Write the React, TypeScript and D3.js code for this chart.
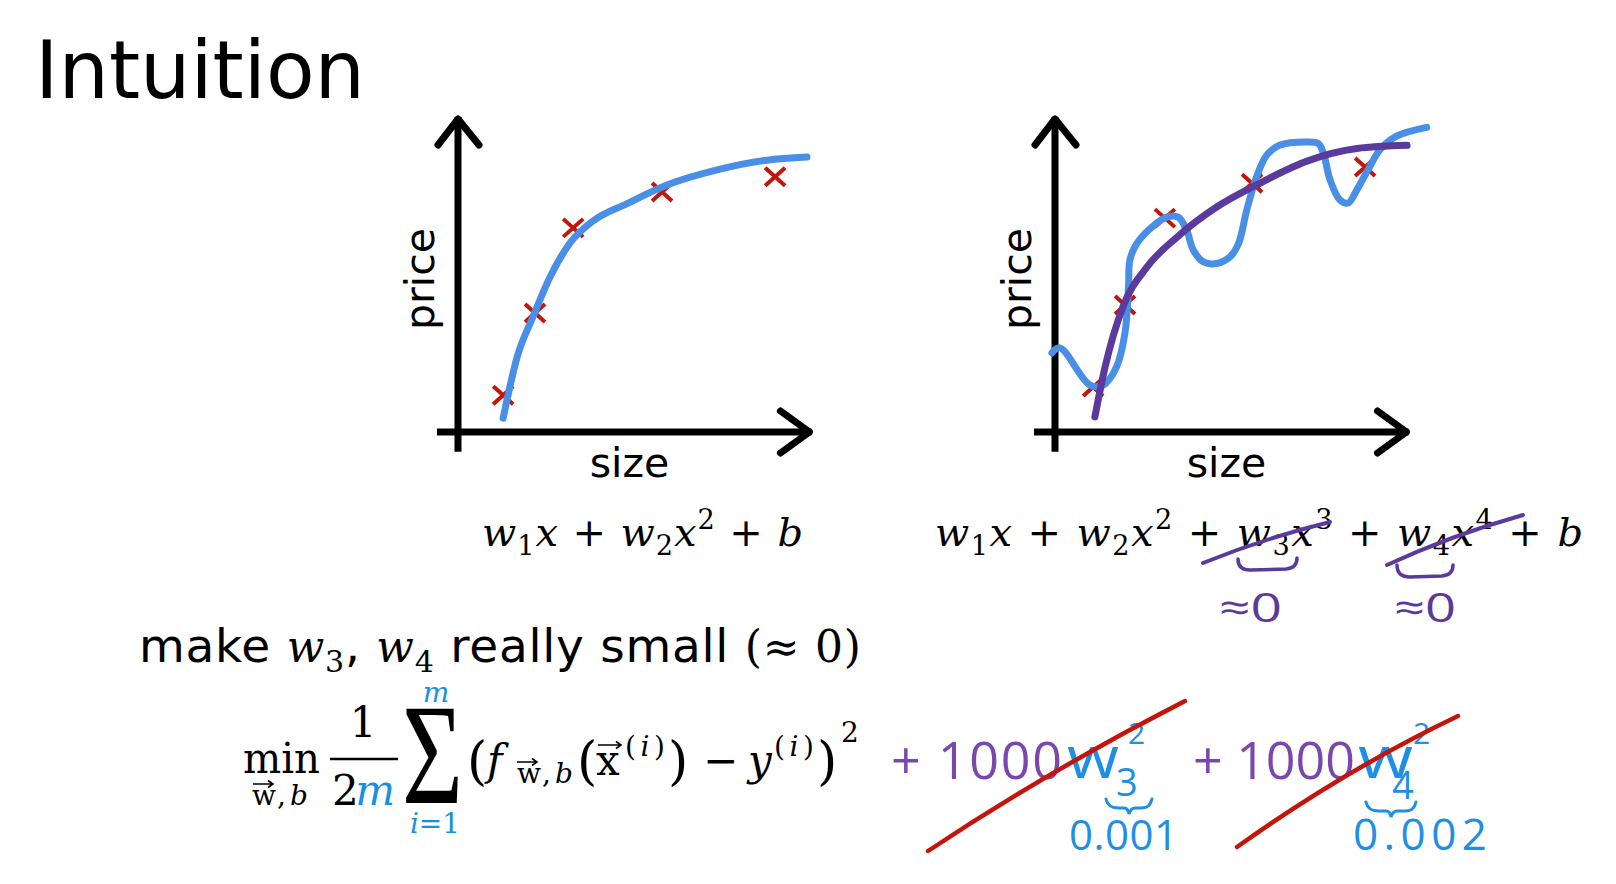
import React from 'react';
import * as d3 from 'd3';

const W = 1616;
const H = 884;

// ---------- data (size / price in arbitrary units 0..10) ----------
const leftSize = [1.29, 2.2, 3.29, 5.83, 9.06];
const leftPrice = [1.17, 3.78, 6.48, 7.62, 8.1];
const leftFitSize = [1.29, 1.69, 2.14, 2.63, 3.2, 3.86, 4.83, 5.97, 7.4, 8.83, 9.97];
const leftFitPrice = [0.44, 2.38, 3.65, 4.92, 6.0, 6.7, 7.25, 7.84, 8.32, 8.63, 8.73];

const rightSize = [1.09, 2.0, 3.14, 5.63, 8.86];
const rightPrice = [1.43, 4.03, 6.79, 7.9, 8.41];
const rightSmoothSize = [1.14, 1.43, 1.94, 2.63, 3.49, 4.63, 5.77, 7.2, 8.63, 10.06];
const rightSmoothPrice = [0.48, 2.06, 3.97, 5.24, 6.19, 7.15, 7.85, 8.6, 9.0, 9.1];
const rightWiggleSize = [-0.09, 0.14, 1.0, 1.38, 1.76, 2.0, 2.1, 2.14, 2.33, 2.71, 3.19, 3.52, 3.76, 3.95, 4.24, 4.62, 5.0, 5.24, 5.48, 5.76, 6.05, 6.43, 7.19, 7.52, 7.67, 7.86, 8.14, 8.38, 8.62, 9.0, 9.29, 9.76, 10.62];
const rightWigglePrice = [2.51, 2.67, 1.49, 1.49, 2.07, 3.15, 4.6, 5.46, 5.97, 6.45, 6.82, 6.82, 6.41, 5.78, 5.4, 5.35, 5.56, 5.97, 7.05, 8.1, 8.79, 9.11, 9.21, 9.16, 8.85, 8.0, 7.37, 7.27, 7.68, 8.44, 8.97, 9.39, 9.67];

const axisLabelX = 'size';
const axisLabelY = 'price';
const title = 'Intuition';

const BLUE = '#4a8fe6';
const PURPLE = '#5a3a9c';
const RED = '#c4150c';
const HAND_PURPLE = '#7a48ad';
const HAND_BLUE = '#1f8fe6';
const MATH_BLUE = '#1a8fe0';
const SERIF = '"DejaVu Serif", "Liberation Serif", serif';
const SANS = '"DejaVu Sans", Verdana, sans-serif';
const HAND = '"Open Sans", "Noto Sans", sans-serif';

type Seg = { t: string; it?: boolean; sub?: boolean; sup?: boolean; fs?: number; fam?: string; fill?: string };

function segs(list: Seg[], base: number, subShift: number, supShift: number) {
  let cur = 0;
  return list.map((s, i) => {
    const target = s.sub ? subShift : s.sup ? -supShift : 0;
    const dy = target - cur;
    cur = target;
    return (
      <tspan
        key={i}
        dy={dy}
        fontStyle={s.it ? 'italic' : 'normal'}
        fontSize={s.fs ?? (s.sub || s.sup ? base * 0.68 : base)}
        fontFamily={s.fam}
        fill={s.fill}
      >
        {s.t}
      </tspan>
    );
  });
}

const leftFormula: Seg[] = [
  { t: 'w', it: true }, { t: '1', sub: true }, { t: 'x', it: true }, { t: ' + ' },
  { t: 'w', it: true }, { t: '2', sub: true }, { t: 'x', it: true }, { t: '2', sup: true }, { t: ' + ' },
  { t: 'b', it: true },
];
const rightFormula: Seg[] = [
  { t: 'w', it: true }, { t: '1', sub: true }, { t: 'x', it: true }, { t: ' + ' },
  { t: 'w', it: true }, { t: '2', sub: true }, { t: 'x', it: true }, { t: '2', sup: true }, { t: ' + ' },
  { t: 'w', it: true }, { t: '3', sub: true }, { t: 'x', it: true }, { t: '3', sup: true }, { t: ' + ' },
  { t: 'w', it: true }, { t: '4', sub: true }, { t: 'x', it: true }, { t: '4', sup: true }, { t: ' + ' },
  { t: 'b', it: true },
];
const makeLine: Seg[] = [
  { t: 'make ', fam: SANS },
  { t: 'w', it: true, fam: SERIF, fs: 44 }, { t: '3', sub: true, fam: SERIF, fs: 30 },
  { t: ', ', fam: SANS },
  { t: 'w', it: true, fam: SERIF, fs: 44 }, { t: '4', sub: true, fam: SERIF, fs: 30 },
  { t: ' really small ', fam: SANS },
  { t: '(≈ 0)', fam: SERIF, fs: 44 },
];

function Panel({ x0, sizes, prices, curves }: {
  x0: number;
  sizes: number[];
  prices: number[];
  curves: { xs: number[]; ys: number[]; color: string; smooth?: boolean }[];
}) {
  const x = d3.scaleLinear().domain([0, 10]).range([x0, x0 + 350]);
  const y = d3.scaleLinear().domain([0, 10]).range([432, 117]);
  const mk = (smooth?: boolean) => d3.line<[number, number]>()
    .x((d) => x(d[0]))
    .y((d) => y(d[1]))
    .curve(smooth ? d3.curveMonotoneX : d3.curveCatmullRom.alpha(0.5));
  const ax = x(0);
  const ay = y(0);
  const xEnd = x(10.1);
  const yTop = y(10);
  return (
    <g>
      <line x1={x(-0.6)} y1={ay} x2={xEnd} y2={ay} stroke="#000" strokeWidth={7} />
      <line x1={ax} y1={y(-0.63)} x2={ax} y2={yTop} stroke="#000" strokeWidth={7} />
      <path d={`M${ax - 20},${yTop + 28} L${ax},${yTop + 2} L${ax + 21},${yTop + 28}`} fill="none" stroke="#000" strokeWidth={7} strokeLinecap="round" strokeLinejoin="round" />
      <path d={`M${xEnd - 31},${ay - 21} L${xEnd - 2},${ay} L${xEnd - 31},${ay + 21}`} fill="none" stroke="#000" strokeWidth={7} strokeLinecap="round" strokeLinejoin="round" />
      <text x={x(4.9)} y={477} textAnchor="middle" fontFamily={SANS} fontSize={41} fill="#000">{axisLabelX}</text>
      <text transform={`translate(${ax - 24},${279}) rotate(-90)`} textAnchor="middle" fontFamily={SANS} fontSize={41} fill="#000">{axisLabelY}</text>
      {sizes.map((s, i) => (
        <path key={i} transform={`translate(${x(s)},${y(prices[i])})`} d="M-10,-9 L10,9 M-10,9 L10,-9" stroke={RED} strokeWidth={4} fill="none" />
      ))}
      {curves.map((c, i) => (
        <path key={i} d={mk(c.smooth)(c.xs.map((v, j) => [v, c.ys[j]]) as [number, number][]) || ''} fill="none" stroke={c.color} strokeWidth={7} strokeLinecap="round" strokeLinejoin="round" />
      ))}
    </g>
  );
}

function VecArrow({ x1, x2, y }: { x1: number; x2: number; y: number }) {
  return (
    <path d={`M${x1},${y} L${x2},${y} M${x2 - 5},${y - 3.5} L${x2},${y} L${x2 - 5},${y + 3.5}`} stroke="#000" strokeWidth={1.6} fill="none" />
  );
}

export default function App() {
  return (
    <svg width={W} height={H} viewBox={`0 0 ${W} ${H}`} style={{ position: 'absolute', left: 0, top: 0, background: '#fff', display: 'block' }}>
      <rect width={W} height={H} fill="#fff" />
      <text x={35} y={98} fontFamily={SANS} fontSize={80} fill="#000" textLength={330} lengthAdjust="spacingAndGlyphs">{title}</text>

      <Panel x0={458} sizes={leftSize} prices={leftPrice} curves={[{ xs: leftFitSize, ys: leftFitPrice, color: BLUE, smooth: true }]} />
      <Panel
        x0={1055}
        sizes={rightSize}
        prices={rightPrice}
        curves={[
          { xs: rightWiggleSize, ys: rightWigglePrice, color: BLUE },
          { xs: rightSmoothSize, ys: rightSmoothPrice, color: PURPLE, smooth: true },
        ]}
      />

      {/* model formulas */}
      <text x={482} y={546} fontFamily={SERIF} fontSize={40} fill="#000" style={{ whiteSpace: 'pre' }} textLength={321} lengthAdjust="spacing">
        {segs(leftFormula, 40, 9, 17)}
      </text>
      <text x={935} y={546} fontFamily={SERIF} fontSize={40} fill="#000" style={{ whiteSpace: 'pre' }} textLength={648} lengthAdjust="spacing">
        {segs(rightFormula, 40, 9, 17)}
      </text>

      {/* purple annotations on right formula */}
      <path d="M1203,563 Q1265,538 1330,522" stroke={PURPLE} strokeWidth={4} fill="none" strokeLinecap="round" />
      <path d="M1387,565 Q1452,535 1523,515" stroke={PURPLE} strokeWidth={4} fill="none" strokeLinecap="round" />
      <path d="M1238,559 Q1238,570 1250,570 L1286,569 Q1297,568 1297,558" stroke={PURPLE} strokeWidth={3.5} fill="none" strokeLinecap="round" />
      <path d="M1397,565 Q1397,577 1410,577 L1442,576 Q1453,575 1453,565" stroke={PURPLE} strokeWidth={3.5} fill="none" strokeLinecap="round" />
      <text x={1219} y={622} fontFamily={HAND} fontSize={40} fill={PURPLE} textLength={63} lengthAdjust="spacingAndGlyphs">≈0</text>
      <text x={1394} y={622} fontFamily={HAND} fontSize={40} fill={PURPLE} textLength={62} lengthAdjust="spacingAndGlyphs">≈0</text>

      {/* make w3, w4 really small */}
      <text x={139} y={662} fontFamily={SANS} fontSize={47} fill="#000" style={{ whiteSpace: 'pre' }} textLength={722} lengthAdjust="spacing">
        {segs(makeLine, 47, 10, 0)}
      </text>

      {/* cost function */}
      <text x={243} y={773} fontFamily={SERIF} fontSize={42} fill="#000" textLength={77} lengthAdjust="spacingAndGlyphs">min</text>
      <text x={252} y={805} fontFamily={SERIF} fontSize={28} fill="#000" textLength={56} lengthAdjust="spacing">
        <tspan>w</tspan><tspan>,</tspan><tspan fontStyle="italic">b</tspan>
      </text>
      <VecArrow x1={253} x2={273} y={784} />
      <text x={363} y={737} textAnchor="middle" fontFamily={SERIF} fontSize={42} fill="#000">1</text>
      <line x1={330} x2={398} y1={759} y2={759} stroke="#000" strokeWidth={2.5} />
      <text x={332} y={805} fontFamily={SERIF} fontSize={42} fill="#000" textLength={63} lengthAdjust="spacing">
        <tspan>2</tspan><tspan fontStyle="italic" fill={MATH_BLUE}>m</tspan>
      </text>
      <text x={402} y={803} fontFamily='"Liberation Serif", serif' fontSize={145} fill="#000" textLength={61} lengthAdjust="spacingAndGlyphs">Σ</text>
      <text x={436} y={702} textAnchor="middle" fontFamily={SERIF} fontSize={28} fontStyle="italic" fill={MATH_BLUE}>m</text>
      <text x={435} y={833} textAnchor="middle" fontFamily={SERIF} fontSize={28} fill={MATH_BLUE}>
        <tspan fontStyle="italic">i</tspan><tspan>=1</tspan>
      </text>
      <text x={467} y={779} fontFamily={SERIF} fontSize={52} fill="#000">(</text>
      <text x={487} y={775} fontFamily={SERIF} fontSize={42} fontStyle="italic" fill="#000">f</text>
      <text x={517} y={783} fontFamily={SERIF} fontSize={28} fill="#000" textLength={56} lengthAdjust="spacing">
        <tspan>w</tspan><tspan>,</tspan><tspan fontStyle="italic">b</tspan>
      </text>
      <VecArrow x1={517} x2={537} y={762} />
      <text x={577} y={779} fontFamily={SERIF} fontSize={52} fill="#000">(</text>
      <text x={596} y={775} fontFamily={SERIF} fontSize={42} fill="#000">x</text>
      <VecArrow x1={598} x2={621} y={745} />
      <text x={625} y={756} fontFamily={SERIF} fontSize={28} fill="#000" textLength={40} lengthAdjust="spacing">
        <tspan>(</tspan><tspan fontStyle="italic">i</tspan><tspan>)</tspan>
      </text>
      <text x={668} y={779} fontFamily={SERIF} fontSize={52} fill="#000">)</text>
      <text x={703} y={775} fontFamily={SERIF} fontSize={42} fill="#000">−</text>
      <text x={748} y={775} fontFamily={SERIF} fontSize={42} fontStyle="italic" fill="#000">y</text>
      <text x={774} y={756} fontFamily={SERIF} fontSize={28} fill="#000" textLength={40} lengthAdjust="spacing">
        <tspan>(</tspan><tspan fontStyle="italic">i</tspan><tspan>)</tspan>
      </text>
      <text x={817} y={779} fontFamily={SERIF} fontSize={52} fill="#000">)</text>
      <text x={841} y={742} fontFamily={SERIF} fontSize={28} fill="#000">2</text>

      {/* handwritten regularization terms */}
      <text x={891} y={779} fontFamily={HAND} fontSize={52} fill={HAND_PURPLE} textLength={171} lengthAdjust="spacing">+ 1000</text>
      <text x={1067} y={778} fontFamily={HAND} fontSize={58} fill={HAND_BLUE} textLength={52} lengthAdjust="spacingAndGlyphs">w</text>
      <text x={1128} y={744} fontFamily={HAND} fontSize={30} fill={HAND_BLUE}>2</text>
      <text x={1116} y={796} fontFamily={HAND} fontSize={38} fill={HAND_BLUE}>3</text>
      <path d="M1106,799 Q1108,808 1118,808 L1124,808 Q1128,808 1129,814 Q1131,808 1135,808 L1142,808 Q1150,808 1152,799" stroke={HAND_BLUE} strokeWidth={3} fill="none" strokeLinecap="round" />
      <text x={1069} y={850} fontFamily={HAND} fontSize={42} fill={HAND_BLUE} textLength={109} lengthAdjust="spacing">0.001</text>

      <text x={1193} y={779} fontFamily={HAND} fontSize={52} fill={HAND_PURPLE} textLength={162} lengthAdjust="spacing">+ 1000</text>
      <text x={1358} y={778} fontFamily={HAND} fontSize={58} fill={HAND_BLUE} textLength={55} lengthAdjust="spacingAndGlyphs">w</text>
      <text x={1413} y={744} fontFamily={HAND} fontSize={30} fill={HAND_BLUE}>2</text>
      <text x={1392} y={799} fontFamily={HAND} fontSize={38} fill={HAND_BLUE}>4</text>
      <path d="M1366,802 Q1368,811 1378,811 L1386,811 Q1390,811 1391,817 Q1393,811 1397,811 L1406,811 Q1414,811 1416,802" stroke={HAND_BLUE} strokeWidth={3} fill="none" strokeLinecap="round" />
      <text x={1353} y={850} fontFamily={HAND} fontSize={44} fill={HAND_BLUE} textLength={134} lengthAdjust="spacing">0.002</text>

      {/* red strike-through lines */}
      <path d="M928,851 Q1050,770 1185,701" stroke={RED} strokeWidth={4.5} fill="none" strokeLinecap="round" />
      <path d="M1237,847 Q1345,770 1458,716" stroke={RED} strokeWidth={4.5} fill="none" strokeLinecap="round" />
    </svg>
  );
}
